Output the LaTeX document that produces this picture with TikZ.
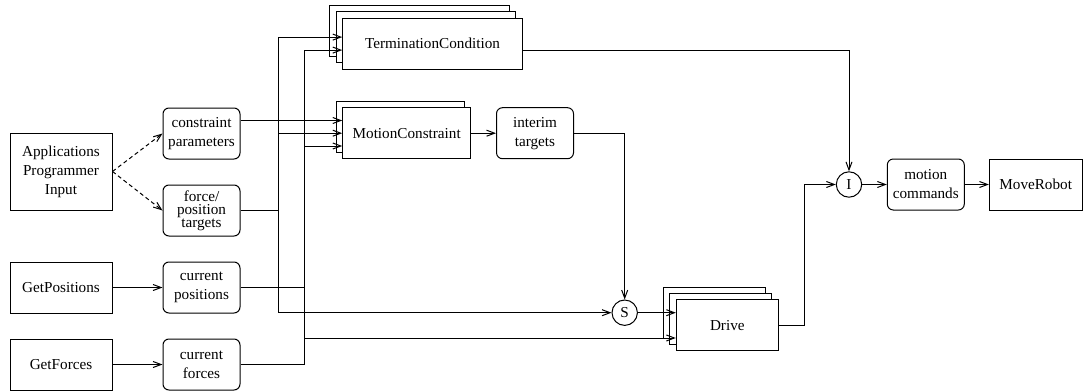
\documentclass[tikz,border=0pt]{standalone}
\usepackage{fontspec}
\setmainfont{Liberation Serif}
\usetikzlibrary{arrows.meta,shadows}

\tikzset{
  blockbox/.style={draw, rectangle, fill=white, inner sep=0pt, minimum width=51pt, minimum height=25.5pt, align=center},
  databox/.style={draw, rounded corners=3pt, inner sep=0pt, minimum width=38.5pt, minimum height=25.5pt, align=center},
  stackone/.style={blockbox, copy shadow={shadow xshift=-3.3pt, shadow yshift=3.2pt}},
  stacktwo/.style={blockbox, copy shadow={shadow xshift=-6.6pt, shadow yshift=6.4pt}, copy shadow={shadow xshift=-3.3pt, shadow yshift=3.2pt}},
  joint/.style={draw, circle, inner sep=0pt, minimum size=12.7pt},
  flow/.style={-{Straight Barb[length=4pt,width=3pt]}},
  hint/.style={flow, dash pattern=on 2pt off 1.5pt},
}

\begin{document}
\begin{tikzpicture}[x=0.5pt, y=-0.5pt, line width=0.5pt, font=\fontsize{7.6}{9.5}\selectfont]
          \useasboundingbox (0, 0) rectangle (1083, 391);
          \node[blockbox, minimum height=38.5pt] (app) at (61, 171.5) {Applications\\Programmer\\Input};
          \node[blockbox] (getpos) at (61, 287.5) {GetPositions};
          \node[blockbox] (getforce) at (61, 364.5) {GetForces};
          %
          \node[databox] (cparam) at (201.5, 133.5) {constraint\\parameters};
          \node[databox, font=\fontsize{7.6}{6.5}\selectfont] (ftarget) at (201.5, 210.5) {force/\\position\\targets};
          \node[databox] (cpos) at (201.5, 287.5) {current\\positions};
          \node[databox] (cforce) at (201.5, 364.5) {current\\forces};
          %
          \node[stacktwo, minimum width=89.8pt] (term) at (432.5, 43.7) {TerminationCondition};
          \node[stackone, minimum width=64pt] (motion) at (406.7, 133.2) {MotionConstraint};
          \node[databox] (interim) at (535, 133.2) {interim\\targets};
          \node[joint] (sel) at (624.7, 312.7) {S};
          \node[stacktwo] (drive) at (727.3, 325.3) {Drive};
          \node[joint] (intg) at (849, 184.5) {I};
          \node[databox] (mcmd) at (925.8, 184.5) {motion\\commands};
          \node[blockbox, minimum width=46.3pt] (robot) at (1035.7, 184.5) {MoveRobot};
          %
          \coordinate (busA) at (278.5, 0);
          \coordinate (busB) at (304.5, 0);
          \coordinate (jog) at (804.5, 0);
          \coordinate (tin1) at ([yshift=3.3pt]term.west);
          \coordinate (tin2) at ([yshift=-3.2pt]term.west);
          \coordinate (min1) at ([yshift=6.35pt]motion.west);
          \coordinate (min3) at ([yshift=-6.4pt]motion.west);
          \coordinate (din2) at ([yshift=-6.35pt]drive.west);
          %
          \draw[hint] (app.east) -- (cparam.west);
          \draw[hint] (app.east) -- (ftarget.west);
          \draw[flow] (getpos) -- (cpos);
          \draw[flow] (getforce) -- (cforce);
          %
          \draw[flow] (cparam.east |- min1) -- (min1);
          \draw (ftarget.east) -- (busA |- ftarget.east);
          \draw[flow] (busA |- sel) -- (busA |- tin1) -- (tin1);
          \draw[flow] (busA |- motion.west) -- (motion.west);
          \draw[flow] (busA |- sel) -- (sel);
          %
          \draw (cpos.east) -- (busB |- cpos.east);
          \draw[flow] (cforce.east) -- (busB |- cforce.east) -- (busB |- tin2) -- (tin2);
          \draw[flow] (busB |- min3) -- (min3);
          \draw[flow] (busB |- din2) -- (din2);
          %
          \draw[flow] (motion) -- (interim);
          \draw[flow] (interim.east) -| (sel.north);
          \draw[flow] (sel.east) -- (sel.east -| drive.west);
          \draw[flow] ([yshift=-3.2pt]term.east) -| (intg.north);
          \draw[flow] (drive.east) -| (jog |- intg) -- (intg);
          \draw[flow] (intg) -- (mcmd);
          \draw[flow] (mcmd) -- (robot);
        \end{tikzpicture}
\end{document}
